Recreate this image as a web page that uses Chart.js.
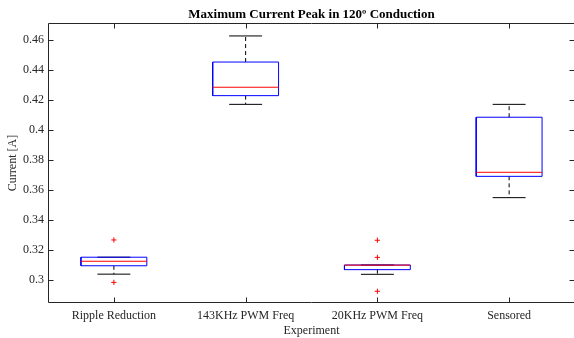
<!DOCTYPE html>
<html>
<head>
<meta charset="utf-8">
<script src="https://cdn.jsdelivr.net/npm/chart.js@4.4.1/dist/chart.umd.min.js"></script>
<style>
  html, body { margin: 0; padding: 0; background: #ffffff; overflow: hidden; }
  #wrap { width: 574px; height: 338px; overflow: hidden; }
</style>
</head>
<body>
<div id="wrap"><canvas id="c" width="575" height="338"></canvas></div>
<script>
// ---- data ----
const categories    = ['Ripple Reduction', '143KHz PWM Freq', '20KHz PWM Freq', 'Sensored'];
const lowerWhisker  = [0.3039, 0.4171, 0.3038, 0.3549];
const lowerQuartile = [0.3095, 0.4229, 0.3069, 0.3691];
const medians       = [0.3125, 0.4285, 0.3099, 0.3718];
const upperQuartile = [0.3152, 0.4453, 0.3100, 0.4085];
const upperWhisker  = [0.3152, 0.4627, 0.3100, 0.4171];
const outliers      = [[0.3267, 0.2984], [], [0.3265, 0.3151, 0.2925], []];
const yTicks        = [0.30, 0.32, 0.34, 0.36, 0.38, 0.40, 0.42, 0.44, 0.46];
const yRange        = [0.28467, 0.47133];

const FONT = "'Liberation Serif', 'Times New Roman', serif";
const AX = '#262626';
const BOX_HALF = 0.25, CAP_HALF = 0.125;

const line = (pts, color, dash) => ({
  type: 'scatter', data: pts, showLine: true, borderColor: color, borderWidth: 1,
  borderDash: dash || [], pointRadius: 0, pointHoverRadius: 0, fill: false, tension: 0
});

const datasets = [];
const outPts = [];
outliers.forEach((arr, i) => arr.forEach(v => outPts.push({ x: i + 1, y: v })));
datasets.push({ type: 'scatter', data: outPts, pointStyle: 'cross', pointRadius: 2.6,
  pointHoverRadius: 2.6, borderColor: '#ff0000', backgroundColor: '#ff0000', borderWidth: 1, showLine: false });
categories.forEach((c, i) => {
  const x = i + 1;
  datasets.push(line([{ x: x - BOX_HALF, y: medians[i] }, { x: x + BOX_HALF, y: medians[i] }], '#ff0000'));
});
categories.forEach((c, i) => {
  const x = i + 1;
  datasets.push(line([
    { x: x - BOX_HALF, y: lowerQuartile[i] }, { x: x + BOX_HALF, y: lowerQuartile[i] },
    { x: x + BOX_HALF, y: upperQuartile[i] }, { x: x - BOX_HALF, y: upperQuartile[i] },
    { x: x - BOX_HALF, y: lowerQuartile[i] }], '#0000ff'));
});
categories.forEach((c, i) => {
  const x = i + 1;
  datasets.push(line([{ x: x - CAP_HALF, y: upperWhisker[i] }, { x: x + CAP_HALF, y: upperWhisker[i] }], '#000000'));
  datasets.push(line([{ x: x - CAP_HALF, y: lowerWhisker[i] }, { x: x + CAP_HALF, y: lowerWhisker[i] }], '#000000'));
});
categories.forEach((c, i) => {
  const x = i + 1;
  datasets.push(line([{ x: x, y: upperQuartile[i] }, { x: x, y: upperWhisker[i] }], '#000000', [4, 3]));
  datasets.push(line([{ x: x, y: lowerQuartile[i] }, { x: x, y: lowerWhisker[i] }], '#000000', [4, 3]));
});

const frame = {
  id: 'frame',
  afterDatasetsDraw(chart) {
    const { ctx, chartArea: a, scales } = chart;
    const L = Math.round(a.left) + 0.5, R = Math.round(a.right) - 0.5;
    const T = Math.round(a.top) + 0.5, B = Math.round(a.bottom) - 0.5;
    ctx.save();
    ctx.strokeStyle = AX; ctx.lineWidth = 1; ctx.setLineDash([]);
    ctx.beginPath();
    ctx.rect(L, T, R - L, B - T);
    const tl = 5;
    scales.y.ticks.forEach(t => {
      const y = Math.round(scales.y.getPixelForValue(t.value)) + 0.5;
      ctx.moveTo(L, y); ctx.lineTo(L + tl, y);
      ctx.moveTo(R, y); ctx.lineTo(R - tl, y);
    });
    scales.x.ticks.forEach(t => {
      const x = Math.round(scales.x.getPixelForValue(t.value)) + 0.5;
      ctx.moveTo(x, B); ctx.lineTo(x, B - tl);
      ctx.moveTo(x, T); ctx.lineTo(x, T + tl);
    });
    ctx.stroke();
    ctx.restore();
  }
};

new Chart(document.getElementById('c'), {
  type: 'scatter',
  data: { datasets },
  plugins: [frame],
  options: {
    responsive: false,
    animation: false,
    devicePixelRatio: 1,
    layout: { autoPadding: false, padding: { left: 0, right: 0, top: 0, bottom: 0 } },
    plugins: {
      legend: { display: false },
      tooltip: { enabled: false },
      title: {
        display: true,
        fullSize: false,
        text: 'Maximum Current Peak in 120º Conduction',
        color: '#000000',
        font: { family: FONT, size: 13, weight: 'bold' },
        padding: { top: 7, bottom: 0.4 }
      }
    },
    scales: {
      x: {
        type: 'linear', min: 0.5, max: 4.5,
        afterBuildTicks: s => { s.ticks = categories.map((c, i) => ({ value: i + 1 })); },
        afterFit: s => { s.height = 35; s.paddingLeft = 0; s.paddingRight = 0; },
        grid: { display: false, drawTicks: false },
        border: { display: false },
        ticks: {
          callback: v => categories[Math.round(v) - 1],
          color: AX, font: { family: FONT, size: 12 }, padding: 6, maxRotation: 0, autoSkip: false
        },
        title: { display: true, text: 'Experiment', color: AX,
          font: { family: FONT, size: 12 }, padding: { top: 0, bottom: 0 } }
      },
      y: {
        type: 'linear', min: yRange[0], max: yRange[1],
        afterBuildTicks: s => { s.ticks = yTicks.map(v => ({ value: v })); },
        afterFit: s => { s.width = 48; s.paddingTop = 0; s.paddingBottom = 0; },
        grid: { display: false, drawTicks: false },
        border: { display: false },
        ticks: {
          callback: v => String(+v.toFixed(2)),
          color: AX, font: { family: FONT, size: 12 }, padding: 4
        },
        title: { display: true, text: 'Current [A]', color: AX,
          font: { family: FONT, size: 12 }, padding: { top: 6, bottom: 0 } }
      }
    }
  }
});
</script>
</body>
</html>
